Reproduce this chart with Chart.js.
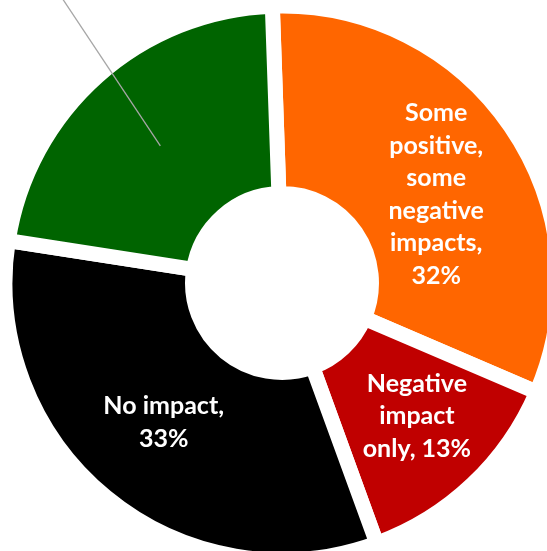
<!DOCTYPE html>
<html>
<head>
<meta charset="utf-8">
<script src="https://cdn.jsdelivr.net/npm/chart.js@4.4.1/dist/chart.umd.min.js"></script>
<style>
  html, body { margin: 0; padding: 0; background: #fff; }
  #wrap { position: relative; width: 547px; height: 551px; overflow: hidden; }
  #impact-chart { position: absolute; left: 0; top: 0; }
</style>
</head>
<body>
<div id="wrap"><canvas id="impact-chart" width="564" height="566"></canvas></div>
<script>
// data
const categories = ['Some positive, some negative impacts', 'Negative impact only', 'No impact', 'Positive impact only'];
const shares = [32, 13, 33, 22];
const labelLines = [
    ['Some', 'positive,', 'some', 'negative', 'impacts,', '32%'],
    ['Negative', 'impact', 'only, 13%'],
    ['No impact,', '33%'],
    [] // this label sits above the cropped picture, only its leader line shows
];
const sliceColors = ['#FF6600', '#C00000', '#000000', '#006400'];

// small nudges so the labels sit where Excel put them
const labelNudge = [[3, 15], [9, 0], [-2, -2], [0, 0]];
const leaderAngle = Math.atan2(-146, -97);

const sliceLabels = {
    id: 'sliceLabels',
    afterDatasetsDraw(chart) {
        const ctx = chart.ctx;
        const arcs = chart.getDatasetMeta(0).data;
        ctx.save();
        arcs.forEach((arc, i) => {
            const p = arc.getProps(['x', 'y', 'startAngle', 'endAngle', 'innerRadius', 'outerRadius'], true);
            const mid = (p.startAngle + p.endAngle) / 2;
            const r = (p.innerRadius + p.outerRadius) / 2;
            const cx = p.x + Math.cos(mid) * r;
            const cy = p.y + Math.sin(mid) * r;

            if (labelLines[i].length === 0) {
                // leader line running off to the hidden label
                ctx.strokeStyle = '#a6a6a6';
                ctx.lineWidth = 1.3;
                ctx.beginPath();
                ctx.moveTo(cx, cy);
                ctx.lineTo(cx + Math.cos(leaderAngle) * 260, cy + Math.sin(leaderAngle) * 260);
                ctx.stroke();
                return;
            }

            const lines = labelLines[i];
            const lh = 32.5;
            const x = cx + labelNudge[i][0];
            const y0 = cy + labelNudge[i][1] - (lines.length - 1) * lh / 2;
            ctx.fillStyle = '#ffffff';
            ctx.font = 'bold 25px Lato';
            ctx.textAlign = 'center';
            ctx.textBaseline = 'middle';
            lines.forEach((t, k) => ctx.fillText(t, x, y0 + k * lh));
        });
        ctx.restore();
    }
};

const ctx = document.getElementById('impact-chart').getContext('2d');
new Chart(ctx, {
    type: 'doughnut',
    data: {
        labels: categories,
        datasets: [{
            data: shares,
            backgroundColor: sliceColors,
            borderColor: '#ffffff',
            borderWidth: 15,
            radius: 277,
            cutout: '32.3%'
        }]
    },
    options: {
        responsive: false,
        animation: false,
        events: [],
        rotation: -2,
        layout: { padding: 0 },
        plugins: {
            legend: { display: false },
            tooltip: { enabled: false }
        }
    },
    plugins: [sliceLabels]
});
</script>
</body>
</html>
